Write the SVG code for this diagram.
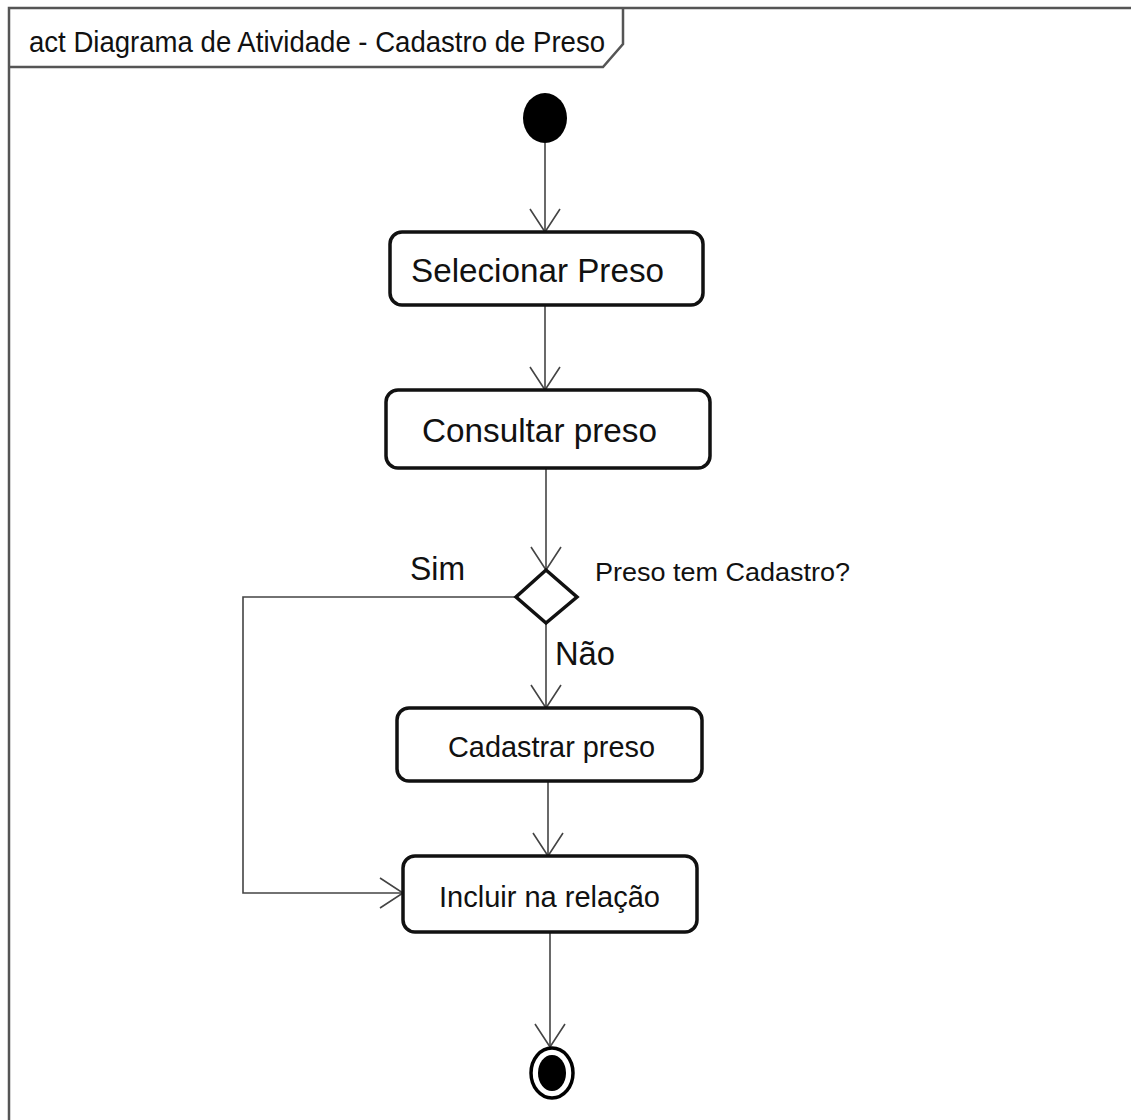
<svg xmlns="http://www.w3.org/2000/svg" width="1131" height="1120" viewBox="0 0 1131 1120">
  <style>
    text { font-family: "Liberation Sans", Arial, sans-serif; fill: #111; }
    .frame { fill: none; stroke: #555; stroke-width: 2.5; }
    .action { fill: #fff; stroke: #111; stroke-width: 3.5; }
    .flow { fill: none; stroke: #444; stroke-width: 1.6; }
    .lbl { text-anchor: middle; }
  </style>
  <defs>
    <!-- open "V" arrowhead for control flows -->
    <marker id="open" viewBox="0 0 30 34" refX="27" refY="17" markerWidth="30" markerHeight="34" markerUnits="userSpaceOnUse" orient="auto">
      <path d="M4,2 L27,17 L4,32" fill="none" stroke="#444" stroke-width="1.6"/>
    </marker>
  </defs>
  <rect width="1131" height="1120" fill="#fff"/>

  <!-- activity frame with name tab -->
  <g id="frame">
    <path class="frame" d="M9,1120 L9,8 L1131,8"/>
    <path class="frame" d="M9,67 L603,67 L623,44 L623,8"/>
    <text x="29" y="52" font-size="30" textLength="576" lengthAdjust="spacingAndGlyphs">act Diagrama de Atividade - Cadastro de Preso</text>
  </g>

  <!-- control flows -->
  <g id="connectors">
    <line class="flow" x1="545" y1="143" x2="545" y2="232" marker-end="url(#open)"/>
    <line class="flow" x1="545" y1="305" x2="545" y2="390" marker-end="url(#open)"/>
    <line class="flow" x1="546" y1="468" x2="546" y2="570" marker-end="url(#open)"/>
    <line class="flow" x1="546" y1="623" x2="546" y2="708" marker-end="url(#open)"/>
    <line class="flow" x1="548" y1="781" x2="548" y2="856" marker-end="url(#open)"/>
    <path class="flow" d="M516,597 L243,597 L243,893 L403,893" marker-end="url(#open)"/>
    <line class="flow" x1="550" y1="932" x2="550" y2="1047" marker-end="url(#open)"/>
    <text x="410" y="580" font-size="33" textLength="55" lengthAdjust="spacingAndGlyphs">Sim</text>
    <text x="555" y="665" font-size="33" textLength="60" lengthAdjust="spacingAndGlyphs">Não</text>
  </g>

  <g id="initial">
    <ellipse cx="545" cy="118" rx="22" ry="25" fill="#000"/>
  </g>

  <g id="selecionar">
    <rect class="action" x="390" y="232" width="313" height="73" rx="12"/>
    <text x="411" y="282" font-size="33" textLength="253" lengthAdjust="spacingAndGlyphs">Selecionar Preso</text>
  </g>

  <g id="consultar">
    <rect class="action" x="386" y="390" width="324" height="78" rx="12"/>
    <text x="422" y="442" font-size="33" textLength="235" lengthAdjust="spacingAndGlyphs">Consultar preso</text>
  </g>

  <g id="decisao">
    <path d="M546,570 L577,597 L546,623 L516,597 Z" fill="#fff" stroke="#111" stroke-width="3.5"/>
    <text x="595" y="581" font-size="26.5" textLength="255" lengthAdjust="spacingAndGlyphs">Preso tem Cadastro?</text>
  </g>

  <g id="cadastrar">
    <rect class="action" x="397" y="708" width="305" height="73" rx="12"/>
    <text x="448" y="757" font-size="29.5" textLength="207" lengthAdjust="spacingAndGlyphs">Cadastrar preso</text>
  </g>

  <g id="incluir">
    <rect class="action" x="403" y="856" width="294" height="76" rx="12"/>
    <text x="439" y="907" font-size="30" textLength="221" lengthAdjust="spacingAndGlyphs">Incluir na relação</text>
  </g>

  <g id="final">
    <ellipse cx="552" cy="1073" rx="21" ry="25" fill="#fff" stroke="#000" stroke-width="3.5"/>
    <ellipse cx="552" cy="1073" rx="14" ry="18" fill="#000"/>
  </g>
</svg>
